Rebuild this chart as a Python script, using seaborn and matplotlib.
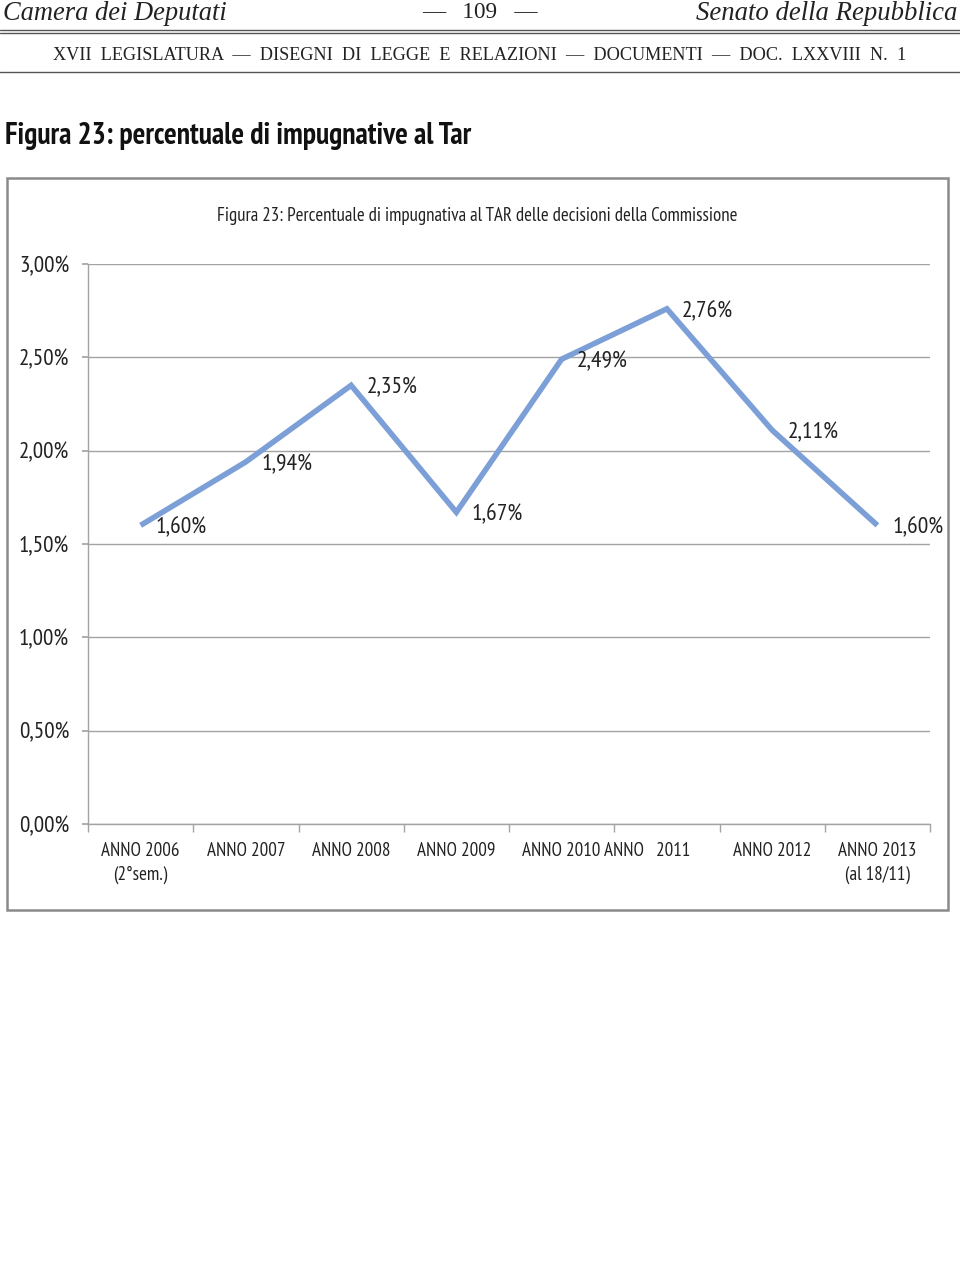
import matplotlib
matplotlib.use("Agg")
import matplotlib.pyplot as plt
import matplotlib.transforms as mtransforms
from matplotlib import font_manager as fm
import seaborn as sns
import pandas as pd
import numpy as np
from matplotlib.patches import Rectangle
from matplotlib.lines import Line2D

# ---- data ----
categories = ["ANNO 2006\n(2°sem.)", "ANNO 2007", "ANNO 2008", "ANNO 2009",
              "ANNO 2010", "ANNO   2011", "ANNO 2012", "ANNO 2013\n(al 18/11)"]
values = [1.60, 1.94, 2.35, 1.67, 2.49, 2.76, 2.11, 1.60]
value_labels = ["1,60%", "1,94%", "2,35%", "1,67%", "2,49%", "2,76%", "2,11%", "1,60%"]
ytick_vals = [0.0, 0.5, 1.0, 1.5, 2.0, 2.5, 3.0]
ytick_labels = ["0,00%", "0,50%", "1,00%", "1,50%", "2,00%", "2,50%", "3,00%"]

sns.set_theme(style="white")

avail = {f.name for f in fm.fontManager.ttflist}


def pick(cands):
    for c in cands:
        if c in avail:
            return c
    return "DejaVu Sans"


NARROW_NAME = pick(["PT Sans Narrow", "Roboto Condensed", "Archivo Narrow",
                    "Liberation Sans Narrow", "Encode Sans Condensed", "Noto Sans"])
SERIF_NAME = pick(["Liberation Serif", "Tinos", "DejaVu Serif"])
NARROW = [NARROW_NAME, "DejaVu Sans"]
SERIF = [SERIF_NAME, "DejaVu Serif"]
plt.rcParams["font.family"] = NARROW

W, H = 960, 1280
fig = plt.figure(figsize=(9.6, 12.8), dpi=100)
fig.patch.set_facecolor("white")


def fx(px):
    return px / W


def fy(py):
    return 1 - py / H


def measure(text, size, **kw):
    t = fig.text(0, 0, text, fontsize=size, **kw)
    r = fig.canvas.get_renderer()
    w = t.get_window_extent(r).width
    t.remove()
    return w


def size_for(text, target, base=20, **kw):
    return base * target / measure(text, base, **kw)


fit_list = []


def ftext(x, y, s, target_w, **kw):
    t = fig.text(fx(x), fy(y), s, fontsize=20, **kw)
    fit_list.append((t, target_w))
    return t


# ---- page header ----
ftext(3, 13, "Camera dei Deputati", 224, family=SERIF, style="italic",
      ha="left", va="center", color="#222222")
ftext(480, 13, "—   109   —", 116, family=SERIF, ha="center", va="center", color="#222222")
ftext(957, 13, "Senato della Repubblica", 262, family=SERIF, style="italic",
      ha="right", va="center", color="#222222")
for yy in (30, 33, 72):
    fig.add_artist(Line2D([0, 1], [fy(yy), fy(yy)], color="#555555", lw=1.0,
                          transform=fig.transFigure))
ftext(480, 55,
      "XVII  LEGISLATURA  —  DISEGNI  DI  LEGGE  E  RELAZIONI  —  DOCUMENTI  —  DOC.  LXXVIII  N.  1",
      855, family=SERIF, ha="center", va="center", color="#222222")
ftext(5, 136, "Figura 23: percentuale di impugnative al Tar", 468,
      fontweight="bold", ha="left", va="center", color="#111111")

# ---- chart frame ----
fig.add_artist(Rectangle((fx(7), fy(910)), fx(948) - fx(7), fy(178) - fy(910),
                         transform=fig.transFigure, fill=False,
                         edgecolor="#8a8a8a", lw=1.8))
ftext(477, 216,
      "Figura 23: Percentuale di impugnativa al TAR delle decisioni della Commissione",
      519, ha="center", va="center", color="#222222")

# ---- axes ----
ax_l, ax_r, ax_t, ax_b = 88, 930, 264, 824
ax = fig.add_axes([fx(ax_l), fy(ax_b), fx(ax_r) - fx(ax_l), fy(ax_t) - fy(ax_b)])
ax.set_facecolor("white")

df = pd.DataFrame({"pos": np.arange(len(categories)), "val": values})
sns.lineplot(data=df, x="pos", y="val", ax=ax, color="#7b9fd6", lw=4.0,
             solid_joinstyle="miter", solid_capstyle="butt")

s_y = size_for("3,00%", 50)
s_x = size_for("ANNO 2007", 78)
s_lab = size_for("1,60%", 51)

ax.set_xlim(-0.5, len(categories) - 0.5)
ax.set_ylim(0, 3.0)
ax.set_yticks(ytick_vals)
ax.set_yticklabels(ytick_labels, fontsize=s_y, color="#222222")
ax.yaxis.grid(True, color="#a3a3a3", lw=1.0)
ax.set_axisbelow(True)
ax.tick_params(axis="y", length=4.5, color="#a3a3a3", pad=9, left=True)

ax.set_xticks(np.arange(len(categories)))
ax.set_xticklabels(categories, fontsize=s_x, color="#222222",
                   linespacing=27 / (s_x * 100 / 72) / 1.2 * 1.2)
ax.tick_params(axis="x", which="major", length=0, pad=13)
ax.set_xticks(np.arange(-0.5, len(categories)), minor=True)
ax.tick_params(axis="x", which="minor", length=6, color="#a3a3a3", bottom=True)

# the 2011 label sits shifted left in the original
lab2011 = ax.get_xticklabels()[5]
lab2011.set_transform(lab2011.get_transform() +
                      mtransforms.ScaledTranslation(-20 / 100, 0, fig.dpi_scale_trans))

for s in ["top", "right"]:
    ax.spines[s].set_visible(False)
for s in ["left", "bottom"]:
    ax.spines[s].set_color("#a3a3a3")
    ax.spines[s].set_linewidth(1.0)
ax.set_xlabel("")
ax.set_ylabel("")

for i, (v, lab) in enumerate(zip(values, value_labels)):
    ax.annotate(lab, (i, v), xytext=(11, -2), textcoords="offset points",
                ha="left", va="center", fontsize=s_lab, color="#222222")

# fit free texts to their widths in the reference
r = fig.canvas.get_renderer()
for t, target in fit_list:
    w = t.get_window_extent(r).width
    t.set_fontsize(t.get_fontsize() * target / w)

fig.savefig("out.png", dpi=100, facecolor="white")
